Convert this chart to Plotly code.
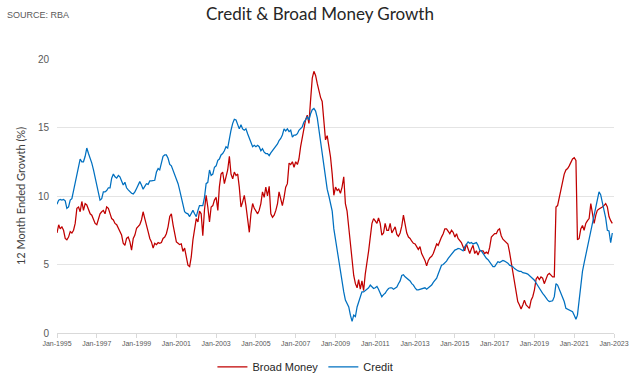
import pandas as pd
import plotly.graph_objects as go

# Monthly series, Jan-1995 onwards (12 month ended growth, %)
start_month = "1995-01-01"

broad_money = [
    7.3, 7.9, 7.6, 7.75, 7.5, 6.9, 6.8, 7.0, 7.4, 7.3, 7.5, 8.0,
    9.1, 9.2, 8.85, 9.6, 8.95, 9.45, 9.35, 8.95, 8.7, 8.6, 8.35, 8.0,
    7.9, 8.25, 8.7, 8.85, 8.95, 8.7, 9.2, 9.1, 8.7, 8.35, 8.25, 8.0,
    7.9, 7.65, 7.5, 7.15, 6.55, 6.4, 6.9, 7.0, 6.65, 6.05, 6.9, 7.15,
    7.65, 7.75, 7.9, 8.25, 8.85, 8.35, 7.75, 7.4, 6.9, 6.65, 6.2, 6.55,
    6.45, 6.6, 6.55, 6.6, 6.9, 7.0, 7.25, 7.75, 8.5, 8.7, 7.9, 7.15,
    6.65, 6.55, 6.45, 6.5, 5.95, 6.2, 5.55, 4.95, 4.85, 5.55, 6.8, 7.75,
    8.35, 8.1, 8.9, 8.7, 7.1, 9.0, 10.05, 9.2, 8.1, 9.2, 9.3, 9.7,
    9.9, 8.95, 10.65, 11.6, 11.75, 10.9, 11.4, 11.9, 12.9, 11.6, 11.25, 11.75,
    11.5, 11.6, 10.65, 9.2, 9.55, 10.05, 9.3, 8.45, 7.35, 8.7, 9.45, 9.1,
    8.85, 8.7, 8.95, 9.45, 10.3, 9.9, 10.65, 10.0, 10.7, 8.7, 8.45, 8.6,
    8.95, 9.45, 10.3, 9.8, 9.3, 9.9, 10.65, 10.9, 12.4, 12.3, 12.5, 12.1,
    12.5, 12.3, 12.7, 13.6, 14.3, 14.9, 15.55, 15.9, 15.3, 17.0, 18.6, 19.1,
    18.8, 18.2, 17.7, 17.2, 16.9, 15.3, 14.1, 14.4, 13.6, 12.85, 11.6, 10.05,
    10.65, 10.4, 10.5, 10.2, 10.65, 11.4, 9.45, 8.9, 7.7, 6.4, 5.0, 4.2,
    3.6, 3.3, 3.9, 3.2, 3.8, 3.1, 4.3, 5.0, 6.0, 7.0, 8.0, 8.35,
    8.2, 8.0, 8.4, 8.0, 7.15, 7.3, 8.0, 7.5, 7.5, 8.0, 7.3, 7.5,
    7.75, 7.2, 7.05, 7.3, 7.8, 8.6, 8.0, 7.3, 7.0, 6.9, 6.7, 6.55,
    6.5, 6.25, 6.1, 6.3, 5.8, 5.55, 5.3, 4.9, 5.3, 5.5, 5.6, 5.8,
    6.15, 6.5, 6.4, 6.75, 7.0, 7.25, 7.6, 7.6, 7.4, 7.25, 7.5, 7.35,
    7.0, 7.25, 6.9, 6.75, 6.6, 6.3, 6.0, 6.5, 6.15, 5.8, 6.15, 6.4,
    5.8, 6.0, 5.7, 6.0, 6.0, 6.0, 5.8, 5.9, 5.8, 6.25, 7.0, 7.1,
    7.25, 7.25, 7.5, 7.6, 7.1, 6.85, 6.75, 6.6, 6.5, 5.9, 5.1, 4.4,
    3.75, 3.0, 2.3, 2.05, 1.75, 2.05, 2.4, 2.05, 1.9, 1.8, 2.4, 2.65,
    3.15, 3.95, 4.1, 3.9, 4.1, 4.0, 3.6, 4.0, 4.25, 4.35, 4.25, 4.1,
    4.1, 9.2, 9.3, 9.9, 10.3, 10.9, 11.6, 11.9, 12.0, 12.2, 12.5, 12.7,
    12.8, 12.6, 6.8, 6.9, 7.6, 7.85, 7.5, 8.0, 8.2, 8.35, 9.45, 8.8,
    8.0, 8.6, 8.95, 9.05, 9.1, 9.2, 9.3, 9.45, 9.2, 8.5, 8.2, 8.0,
]

credit = [
    9.4, 9.7, 9.75, 9.7, 9.75, 9.65, 9.1, 9.2, 9.7, 9.8, 10.4, 11.0,
    11.6, 12.3, 12.7, 12.5, 12.5, 12.9, 13.5, 13.1, 12.8, 12.4, 11.9, 11.3,
    10.8, 10.2, 9.7, 9.8, 10.3, 10.3, 10.4, 10.6, 10.6, 11.3, 11.6, 11.4,
    11.3, 11.5, 11.4, 11.1, 10.8, 11.0, 10.6, 10.45, 10.3, 10.2, 10.15, 10.3,
    10.55, 10.8, 11.05, 10.8, 10.5, 10.7, 10.9, 10.85, 11.1, 11.1, 11.1, 11.15,
    11.75, 12.0, 11.9, 12.4, 12.9, 13.0, 13.0, 12.75, 12.3, 12.2, 11.9, 11.55,
    11.3, 10.9, 10.45, 9.95, 9.35, 8.85, 8.75, 8.7, 8.5, 8.75, 8.95, 8.7,
    8.5, 8.95, 9.3, 9.3, 9.3, 9.9, 10.9, 11.0, 11.9, 11.5, 11.6, 12.1,
    12.2, 12.6, 12.7, 13.0, 13.1, 13.3, 13.6, 13.5, 14.3, 14.8, 15.3, 15.6,
    15.55, 15.2, 14.9, 15.2, 14.9, 14.8, 14.9, 14.55, 14.2, 13.8, 13.6, 13.7,
    13.6, 13.7, 13.6, 13.3, 13.45, 13.2, 13.1, 13.1, 12.95, 13.15, 13.3, 13.45,
    13.6, 13.8, 14.05, 14.2, 14.45, 14.9, 14.75, 14.9, 14.7, 14.8, 14.3, 14.45,
    14.45, 14.55, 14.8, 14.9, 15.05, 15.4, 15.55, 15.8, 15.55, 16.0, 16.3, 16.4,
    16.2, 15.7, 14.9, 13.9, 12.9, 12.0, 11.2, 10.5, 10.0, 9.5, 8.9, 7.6,
    6.8, 6.0, 5.2, 4.5, 3.6, 3.0, 2.4, 2.2, 1.9, 1.3, 0.85, 1.3,
    1.2, 1.9, 2.2, 2.65, 3.0, 3.0, 3.1, 3.2, 3.3, 3.5, 3.4, 3.25,
    3.3, 3.4, 3.2, 2.9, 2.65, 2.8, 2.9, 3.1, 3.25, 3.3, 3.3, 3.2,
    3.3, 3.35, 3.6, 3.8, 4.2, 4.25, 4.1, 4.0, 3.85, 3.8, 3.6, 3.5,
    3.3, 3.15, 3.15, 3.2, 3.25, 3.3, 3.3, 3.2, 3.3, 3.35, 3.5, 3.7,
    3.9, 4.0, 4.3, 4.6, 4.95, 5.0, 5.1, 5.25, 5.45, 5.6, 5.8, 5.9,
    6.05, 6.1, 6.17, 6.15, 6.05, 6.0, 6.3, 6.5, 6.65, 6.55, 6.6, 6.5,
    6.55, 6.6, 6.4, 6.05, 6.0, 5.8, 5.6, 5.45, 5.35, 5.2, 5.05, 4.85,
    4.85, 5.0, 5.2, 5.15, 5.25, 5.3, 5.25, 5.2, 5.1, 4.95, 4.9, 4.84,
    4.7, 4.6, 4.55, 4.5, 4.5, 4.4, 4.4, 4.35, 4.3, 4.2, 4.1, 4.0,
    3.85, 3.65, 3.45, 3.3, 3.1, 2.9, 2.75, 2.55, 2.4, 2.3, 2.3, 2.35,
    2.65, 3.6, 3.5, 3.2, 3.0, 2.6, 2.3, 1.8, 1.75, 1.65, 1.6, 1.55,
    1.3, 1.0, 1.3, 2.4, 3.6, 4.5, 5.1, 5.7, 6.3, 6.9, 7.5, 8.2,
    8.8, 9.3, 9.8, 10.3, 10.1, 9.5, 8.9, 8.4, 7.5, 7.45, 6.6, 7.3,
]

dates = pd.date_range(start_month, periods=len(credit), freq="MS")

fig = go.Figure()
fig.add_trace(go.Scatter(
    x=dates, y=broad_money, name="Broad Money", mode="lines",
    line=dict(color="#C00000", width=1.25),
))
fig.add_trace(go.Scatter(
    x=dates, y=credit, name="Credit", mode="lines",
    line=dict(color="#0070C0", width=1.25),
))

fig.update_layout(
    width=640, height=380,
    margin=dict(l=57, r=26, t=59, b=47, autoexpand=False),
    paper_bgcolor="white", plot_bgcolor="white",
    title=dict(text="Credit & Broad Money Growth", x=0.5, xanchor="center",
               y=0.962, yanchor="middle",
               font=dict(family="Lato, Open Sans, sans-serif", size=17, color="#262626")),
    legend=dict(orientation="h", x=0.446, xanchor="center", y=-0.124, yanchor="middle",
                font=dict(family="Liberation Sans Narrow, Arial Narrow, Liberation Sans, sans-serif",
                          size=11, color="#262626"),
                itemwidth=30, tracegroupgap=0, bgcolor="rgba(0,0,0,0)"),
    showlegend=True,
    annotations=[dict(text="SOURCE: RBA", xref="paper", yref="paper",
                      x=-0.094, y=1.161, xanchor="left", yanchor="middle", showarrow=False,
                      font=dict(family="Liberation Sans, Arial, sans-serif", size=9, color="#595959"))],
)

fig.update_xaxes(
    type="date", range=["1995-01-01", "2023-01-01"],
    dtick="M24", tick0="1995-01-01", tickformat="%b-%Y",
    ticks="outside", ticklen=4, tickcolor="#d9d9d9",
    showline=True, linecolor="#d9d9d9", linewidth=1,
    showgrid=False, zeroline=False,
    tickfont=dict(family="Liberation Sans Narrow, Arial Narrow, Liberation Sans, sans-serif",
                  size=7, color="#595959"),
)
fig.update_yaxes(
    range=[0, 20], dtick=5, showgrid=True, gridcolor="#e4e4e4", gridwidth=1,
    zeroline=False, showline=False, ticks="", ticklabelstandoff=7,
    tickfont=dict(family="Liberation Sans, Arial, sans-serif", size=10, color="#595959"),
    title=dict(text="12 Month Ended Growth (%)", standoff=10,
               font=dict(family="Lato, Open Sans, sans-serif", size=11, color="#404040")),
)

fig.write_html("out.html", config={"displayModeBar": False},
               post_script="document.body.style.margin='0';")
